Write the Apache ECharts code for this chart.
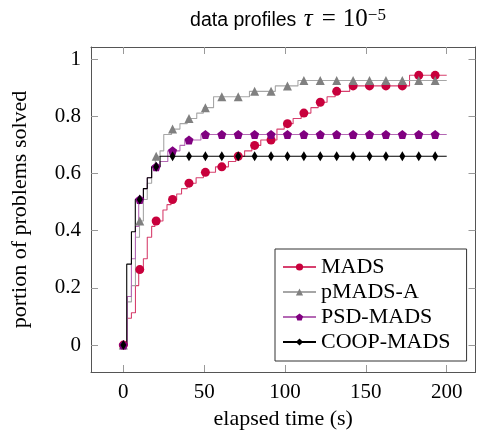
<!doctype html>
<html lang="en">
<head>
<meta charset="UTF-8">
<script src="https://cdn.jsdelivr.net/npm/echarts@6/dist/echarts.min.js"></script>
<title>data profiles</title>
<style>
  html, body { margin: 0; padding: 0; background: #fff; }
</style>
</head>
<body>
<div id="main" style="width: 477px;height:430px;"></div>
<script>
// tick labels
var xTicks = [0, 50, 100, 150, 200];
var yTicks = [0, 0.2, 0.4, 0.6, 0.8, 1];

// times where the markers sit
var markTimes = [0, 10.15, 20.3, 30.45, 40.6, 50.75, 60.9, 71.05, 81.2, 91.35,
                 101.5, 111.65, 121.8, 131.95, 142.1, 152.25, 162.4, 172.55, 182.7, 192.85];

// step profiles: value holds from time t until next t
var madsT = [0, 2.5, 5, 7.5, 9.5, 12.4, 14.8, 17.5, 19.5, 24.5, 27, 29.5, 33, 36, 39.5, 45, 49.5,
             57, 65, 69.5, 75, 79.5, 85, 95, 99.5, 105, 110, 116, 120.5, 126, 131, 140, 177, 200];
var madsY = [0, 0.094, 0.113, 0.208, 0.264, 0.302, 0.377, 0.415, 0.434, 0.472, 0.491, 0.509, 0.528, 0.547, 0.566, 0.585, 0.604,
             0.623, 0.642, 0.660, 0.679, 0.698, 0.717, 0.755, 0.774, 0.792, 0.811, 0.830, 0.849, 0.868, 0.887, 0.906, 0.943, 0.943];

var pmadsT = [0, 2.5, 5, 7.5, 10, 12.4, 14.8, 17.5, 19.8, 22.7, 25, 29.8, 35, 39.5, 45.4, 49.5, 55.8, 78, 94, 108, 200];
var pmadsY = [0, 0.151, 0.208, 0.377, 0.434, 0.509, 0.566, 0.623, 0.660, 0.679, 0.736, 0.755, 0.774, 0.792, 0.811, 0.830, 0.868, 0.887, 0.906, 0.925, 0.925];

var psdT = [0, 2.5, 5, 7.5, 9.5, 12.4, 14.8, 17.5, 22.7, 27.5, 35, 38, 48, 200];
var psdY = [0, 0.170, 0.302, 0.415, 0.509, 0.547, 0.585, 0.623, 0.642, 0.679, 0.698, 0.717, 0.736, 0.736];

var coopT = [0, 2.1, 5, 7.4, 12.4, 14.8, 17.5, 22.7, 200];
var coopY = [0, 0.283, 0.396, 0.509, 0.547, 0.585, 0.623, 0.660, 0.660];

var serif = 'Liberation Serif';
var pentagon = 'path://M0,-1L0.951,-0.309L0.588,0.809L-0.588,0.809L-0.951,-0.309Z';

// merge step points and marker points (markers take the current step value)
function buildData(ts, ys) {
    var pts = [];
    for (var i = 0; i < ts.length; i++) {
        pts.push({value: [ts[i], ys[i]], symbol: 'none'});
    }
    for (var k = 0; k < markTimes.length; k++) {
        var t = markTimes[k], v = ys[0];
        for (var j = 0; j < ts.length; j++) {
            if (ts[j] <= t) v = ys[j];
        }
        pts.push({value: [t, v]});
    }
    pts.sort(function (a, b) { return a.value[0] - b.value[0]; });
    return pts;
}

function frameAxis(pos, extra) {
    var ax = {
        type: 'value',
        position: pos,
        axisLine: {show: true, onZero: false, lineStyle: {color: '#555', width: 1}},
        axisTick: {show: true, inside: true, length: 7, lineStyle: {color: '#999'}},
        axisLabel: {show: false},
        splitLine: {show: false}
    };
    for (var k in extra) ax[k] = extra[k];
    return ax;
}

var myChart = echarts.init(document.getElementById('main'));

var option = {
    animation: false,
    title: {
        text: '{a|data profiles }{b|τ}{c|=}{d|10}{e|−5}',
        left: 283,
        top: 2,
        textAlign: 'center',
        textStyle: {
            fontWeight: 'normal',
            rich: {
                a: {fontFamily: 'Liberation Sans', fontSize: 19.5, fontWeight: 'normal', color: '#000', verticalAlign: 'bottom', padding: [0, 2, 1, 0]},
                b: {fontFamily: serif, fontStyle: 'italic', fontSize: 25, fontWeight: 'normal', color: '#000', verticalAlign: 'bottom'},
                c: {fontFamily: serif, fontSize: 25, fontWeight: 'normal', color: '#000', verticalAlign: 'bottom', padding: [0, 7, 0, 9]},
                d: {fontFamily: serif, fontSize: 25, fontWeight: 'normal', color: '#000', verticalAlign: 'bottom'},
                e: {fontFamily: serif, fontSize: 17, fontWeight: 'normal', color: '#000', verticalAlign: 'top'}
            }
        }
    },
    grid: {left: 91, right: 1.5, top: 47, bottom: 58, outerBoundsMode: 'none', containLabel: false},
    xAxis: [
        frameAxis('bottom', {
            min: -20, max: 217.8,
            axisTick: {show: true, inside: true, length: 7, customValues: xTicks, lineStyle: {color: '#999'}},
            axisLabel: {show: true, customValues: xTicks, fontFamily: serif, fontSize: 21, color: '#000', margin: 10},
            name: 'elapsed time (s)',
            nameLocation: 'middle',
            nameGap: 36,
            nameTextStyle: {fontFamily: serif, fontSize: 22, color: '#000'}
        }),
        frameAxis('top', {
            min: -20, max: 217.8,
            axisTick: {show: true, inside: true, length: 7, customValues: xTicks, lineStyle: {color: '#999'}}
        })
    ],
    yAxis: [
        frameAxis('left', {
            min: -0.094, max: 1.042,
            axisTick: {show: true, inside: true, length: 7, customValues: yTicks, lineStyle: {color: '#999'}},
            axisLabel: {show: true, customValues: yTicks, fontFamily: serif, fontSize: 21, color: '#000', margin: 10},
            name: 'portion of problems solved',
            nameLocation: 'middle',
            nameGap: 60,
            nameTextStyle: {fontFamily: serif, fontSize: 22, color: '#000'}
        }),
        frameAxis('right', {
            min: -0.094, max: 1.042,
            axisTick: {show: true, inside: true, length: 7, customValues: yTicks, lineStyle: {color: '#999'}}
        })
    ],
    legend: {
        orient: 'vertical',
        left: 275,
        top: 249,
        padding: [7, 16, 8, 7],
        itemWidth: 33,
        itemHeight: 9,
        itemGap: 3,
        borderColor: '#333',
        borderWidth: 1,
        backgroundColor: '#fff',
        textStyle: {fontFamily: serif, fontSize: 22, color: '#000'},
        data: ['MADS', 'pMADS-A', 'PSD-MADS', 'COOP-MADS']
    },
    series: [
        {
            name: 'MADS', type: 'line', step: 'end',
            symbol: 'circle', symbolSize: 9,
            itemStyle: {color: '#c8003c'},
            lineStyle: {color: '#d7406e', width: 1.1},
            data: buildData(madsT, madsY)
        },
        {
            name: 'pMADS-A', type: 'line', step: 'end',
            symbol: 'triangle', symbolSize: 9,
            itemStyle: {color: '#808080'},
            lineStyle: {color: '#a6a6a6', width: 1.1},
            data: buildData(pmadsT, pmadsY)
        },
        {
            name: 'PSD-MADS', type: 'line', step: 'end',
            symbol: pentagon, symbolSize: 9,
            itemStyle: {color: '#800080'},
            lineStyle: {color: '#b468b4', width: 1.1},
            data: buildData(psdT, psdY)
        },
        {
            name: 'COOP-MADS', type: 'line', step: 'end',
            symbol: 'diamond', symbolSize: [6, 10],
            itemStyle: {color: '#000'},
            lineStyle: {color: '#000', width: 1.1},
            data: buildData(coopT, coopY)
        }
    ]
};

myChart.setOption(option);
</script>
</body>
</html>
